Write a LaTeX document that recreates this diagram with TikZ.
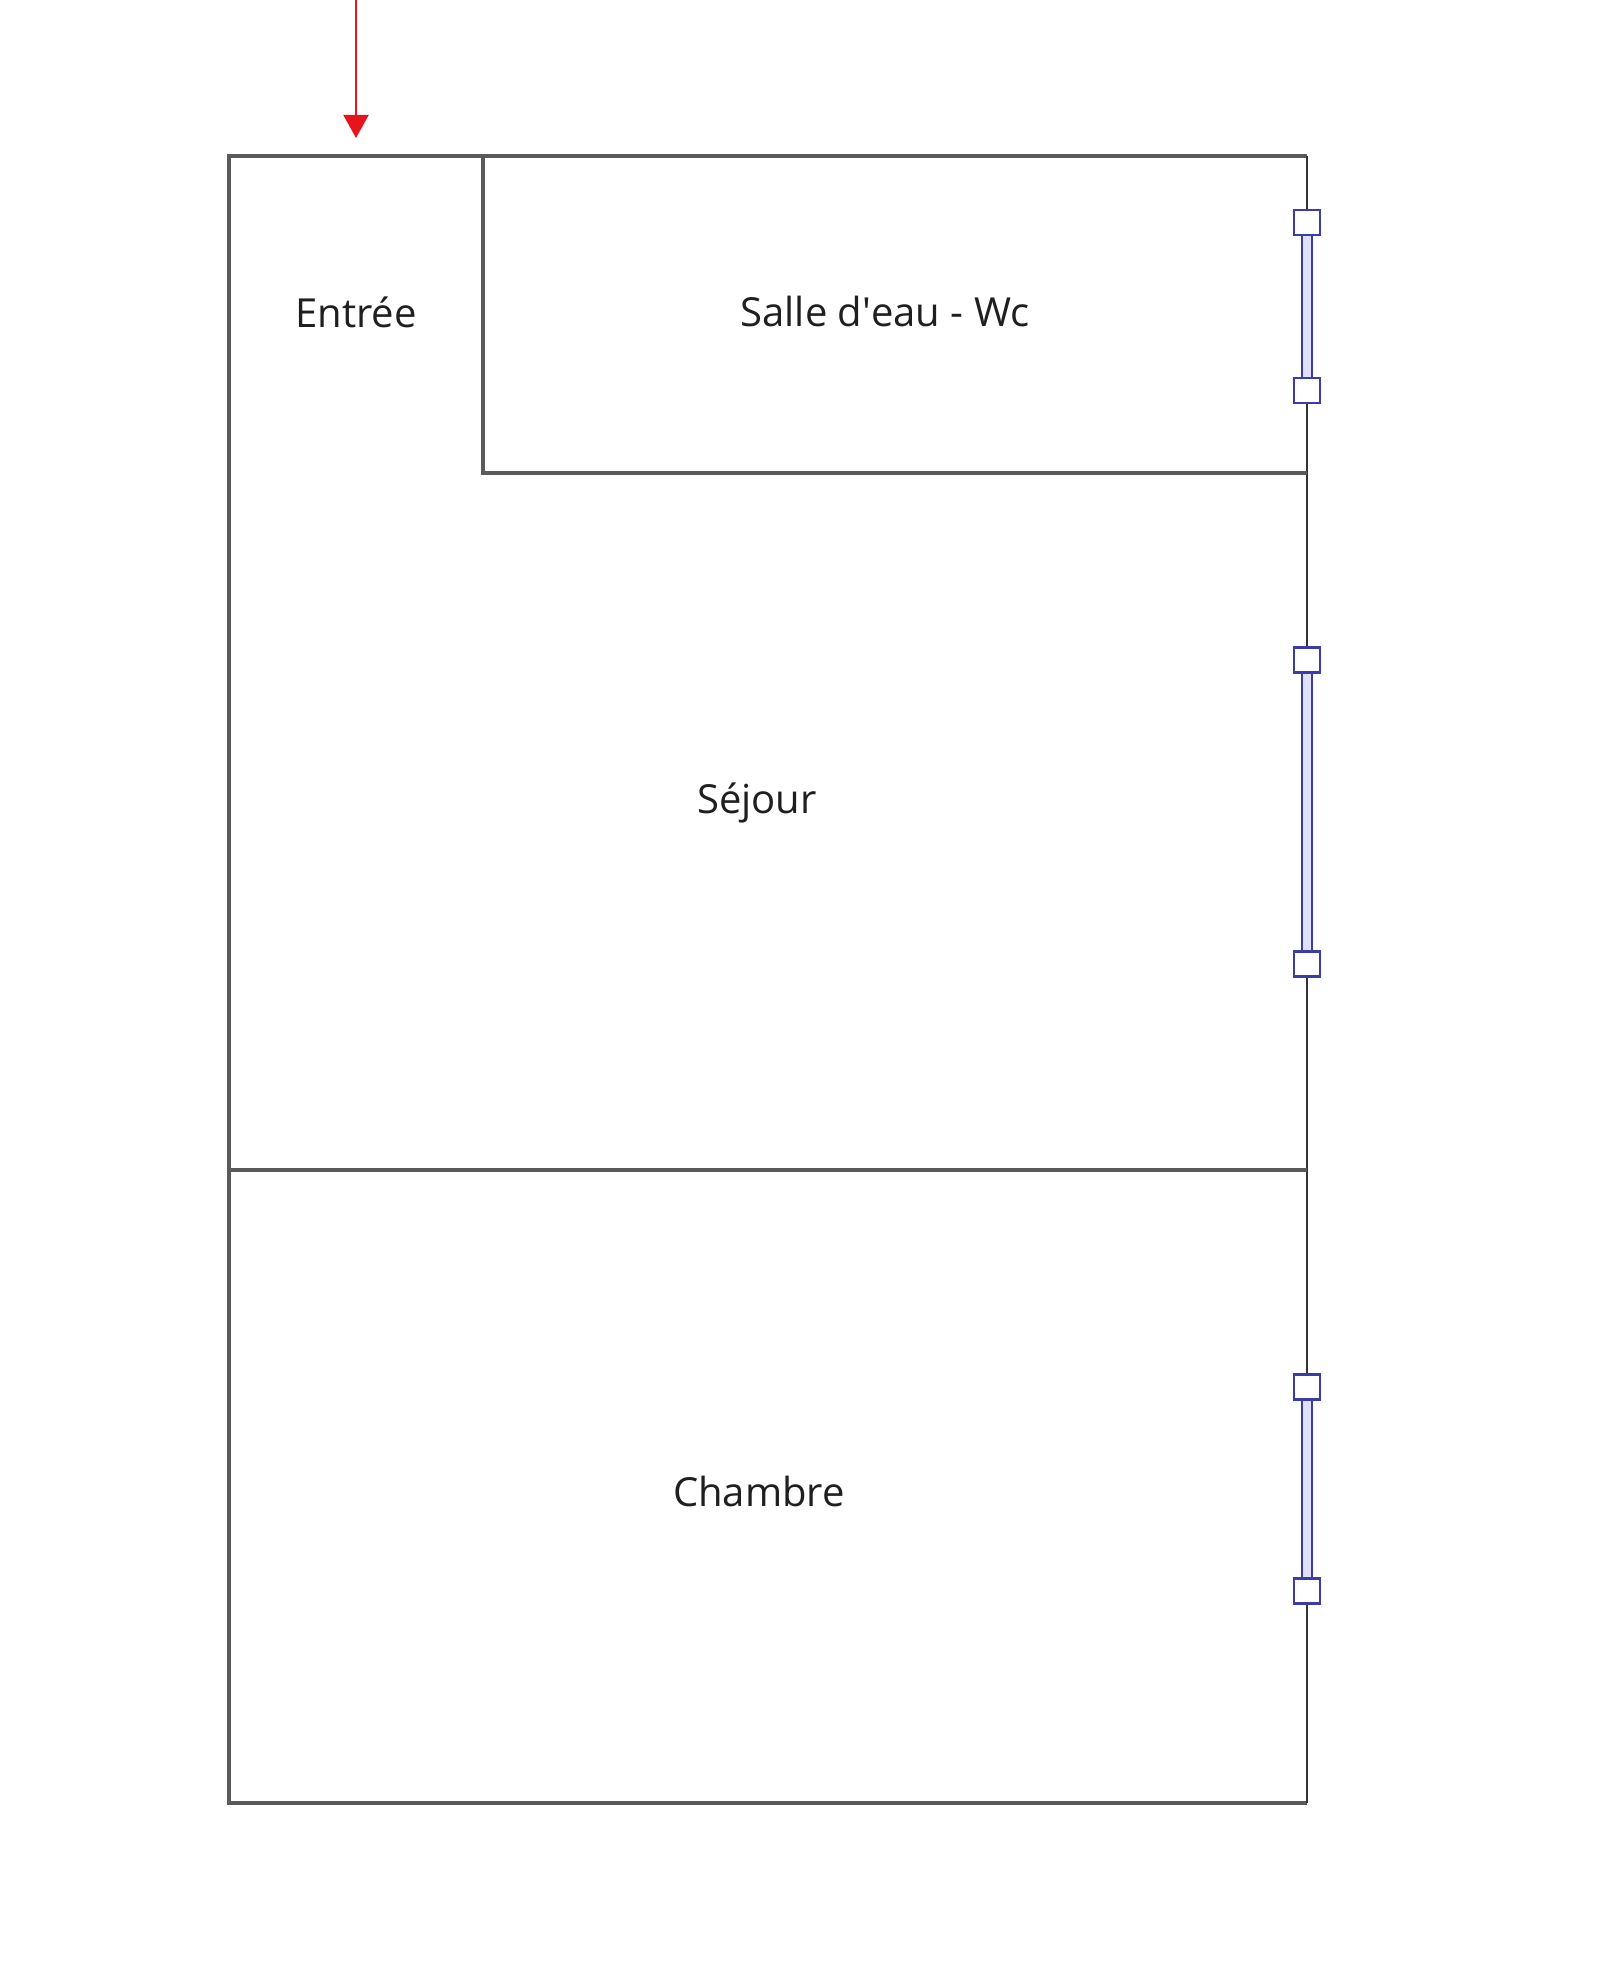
\documentclass[tikz,border=0pt]{standalone}
\usepackage{fontspec}
\setmainfont{Open Sans}
\usetikzlibrary{arrows.meta}
\definecolor{wallc}{HTML}{5A5A5A}
\definecolor{rwallc}{HTML}{333333}
\definecolor{winc}{HTML}{3C3CA8}
\definecolor{winfill}{HTML}{E0E0FF}
\definecolor{arrowc}{HTML}{E8141C}
\tikzset{
  wall/.style={draw=wallc, line width=1.75pt},
  rwall/.style={draw=rwallc, line width=1.1pt},
  roomlabel/.style={font=\fontsize{20}{24}\selectfont, text=black!88},
  winsq/.style={draw=winc, fill=white, line width=1.3pt},
  winbar/.style={draw=winc, line width=1.3pt},
  entryarrow/.style={draw=arrowc, line width=1pt, -{Triangle[width=12.5pt,length=11.5pt]}}
}
\newcommand{\mywindow}[2]{%
  \fill[winfill] (1302,#1) rectangle (1312,#2);
  \draw[winbar] (1302,#1) -- (1302,#2);
  \draw[winbar] (1312,#1) -- (1312,#2);
  \draw[winsq] (1294,#1-12.5) rectangle (1320,#1+12.5);
  \draw[winsq] (1294,#2-12.5) rectangle (1320,#2+12.5);
}
\begin{document}
\begin{tikzpicture}[x=0.5pt,y=-0.5pt]
\useasboundingbox (0,0) rectangle (1600,1974);
\fill[white] (0,0) rectangle (1600,1974);
% walls
\draw[wall] (1307,156) -- (229,156) -- (229,1803) -- (1307,1803);
\draw[rwall] (1307,156) -- (1307,1803);
\draw[wall] (483,156) -- (483,473) -- (1307,473);
\draw[wall] (229,1170) -- (1307,1170);
% windows
\mywindow{222.5}{390.5}
\mywindow{660}{964}
\mywindow{1387}{1591}
% labels
\node[roomlabel] (entree) at (356,312) {Entrée};
\node[roomlabel] (salle) at (885,312) {Salle d\textquotesingle eau - Wc};
\node[roomlabel] (sejour) at (757,803) {Séjour};
\node[roomlabel] (chambre) at (759,1491) {Chambre};
% entry arrow
\coordinate (arrstart) at (356,0);
\coordinate (arrend) at (356,138);
\draw[entryarrow] (arrstart) -- (arrend);
\end{tikzpicture}
\end{document}
